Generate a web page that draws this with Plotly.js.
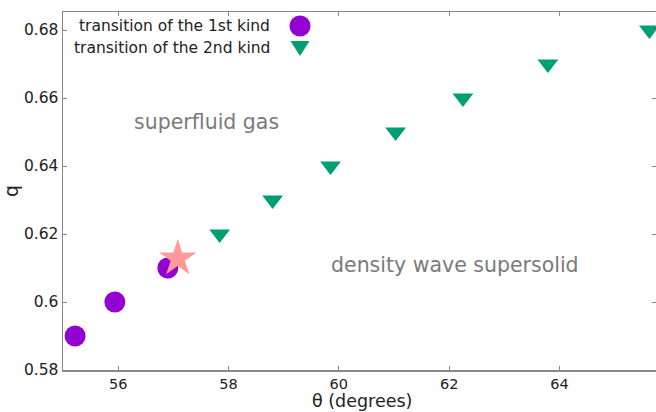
<!DOCTYPE html>
<html><head><meta charset="utf-8">
<script src="https://cdn.plot.ly/plotly-3.0.1.min.js"></script>
<style>html,body{margin:0;padding:0;background:#fff}</style>
</head><body>
<div id="chart" style="width:656px;height:412px"></div>
<script>
// data
const firstKindTheta = [55.22, 55.94, 56.90];
const firstKindQ = [0.59, 0.60, 0.61];
const secondKindTheta = [57.84, 58.80, 59.85, 61.03, 62.25, 63.79, 65.63];
const secondKindQ = [0.62, 0.63, 0.64, 0.65, 0.66, 0.67, 0.68];
const starTheta = [57.08];
const starQ = [0.6128];
const legendLabels = ["transition of the 1st kind", "transition of the 2nd kind"];
const regionLabels = ["superfluid gas", "density wave supersolid"];
const xTicks = [56, 58, 60, 62, 64];
const yTicks = [0.58, 0.6, 0.62, 0.64, 0.66, 0.68];

const FONT = "DejaVu Sans, Verdana, sans-serif";
const px = v => (v - 63) / 593;   // pixel x -> paper
const py = v => (370 - v) / 358;  // pixel y -> paper

const traces = [
  {x: firstKindTheta, y: firstKindQ, mode: "markers", type: "scatter", name: legendLabels[0],
   marker: {symbol: "circle", size: 21, color: "#9400D3"}, cliponaxis: false},
  {x: secondKindTheta, y: secondKindQ, mode: "markers", type: "scatter", name: legendLabels[1],
   marker: {symbol: "triangle-down", size: 18, color: "#009E73"}, cliponaxis: false},
  {x: starTheta, y: starQ, mode: "markers", type: "scatter", name: "star",
   marker: {symbol: "star", size: 28, color: "#FF9A9A"}, cliponaxis: false}
];

const layout = {
  width: 656, height: 412,
  margin: {l: 63, r: 0, t: 12, b: 42},
  showlegend: false,
  paper_bgcolor: "#fff", plot_bgcolor: "#fff",
  font: {family: FONT, size: 15, color: "#222"},
  xaxis: {
    range: [55, 65.75], tickvals: xTicks, ticktext: xTicks.map(String),
    showgrid: false, zeroline: false, showline: true, linecolor: "#888", linewidth: 1.5,
    mirror: "ticks", ticks: "inside", ticklen: 4, tickcolor: "#888", ticklabelstandoff: 0,
    tickfont: {size: 14.5, family: FONT, color: "#222"},
    title: {text: "", font: {size: 18, family: FONT, color: "#222"}}
  },
  yaxis: {
    range: [0.58, 0.6853], tickvals: yTicks, ticktext: yTicks.map(v => String(v)),
    showgrid: false, zeroline: false, showline: true, linecolor: "#888", linewidth: 1.5,
    mirror: "ticks", ticks: "inside", ticklen: 4, tickcolor: "#888",
    tickfont: {size: 15.5, family: FONT, color: "#222"},
    title: {text: "q", font: {size: 19, family: FONT, color: "#222"}, standoff: 8}
  },
  annotations: [
    {xref: "paper", yref: "paper", x: px(362), y: py(401.5), xanchor: "center", yanchor: "middle",
     text: "θ (degrees)", showarrow: false, font: {size: 17.5, family: FONT, color: "#222"}},
    {xref: "paper", yref: "paper", x: px(206), y: py(122), xanchor: "center", yanchor: "middle",
     text: regionLabels[0], showarrow: false, font: {size: 20.5, family: FONT, color: "#7a7a7a"}},
    {xref: "paper", yref: "paper", x: px(455), y: py(265), xanchor: "center", yanchor: "middle",
     text: regionLabels[1], showarrow: false, font: {size: 20.5, family: FONT, color: "#7a7a7a"}},
    {xref: "paper", yref: "paper", x: px(272), y: py(26), xanchor: "right", yanchor: "middle",
     text: legendLabels[0], showarrow: false, font: {size: 15.5, family: FONT, color: "#222"}},
    {xref: "paper", yref: "paper", x: px(272), y: py(48), xanchor: "right", yanchor: "middle",
     text: legendLabels[1], showarrow: false, font: {size: 15.5, family: FONT, color: "#222"}}
  ],
  shapes: [
    {type: "circle", xref: "paper", yref: "paper", x0: px(289.5), x1: px(310.5),
     y0: py(36.5), y1: py(15.5), fillcolor: "#9400D3", line: {width: 0}},
    {type: "path", xref: "paper", yref: "paper",
     path: "M" + px(290.5) + "," + py(41) + " L" + px(309.5) + "," + py(41) +
           " L" + px(300) + "," + py(56) + " Z",
     fillcolor: "#009E73", line: {width: 0}}
  ]
};
Plotly.newPlot("chart", traces, layout, {displayModeBar: false, staticPlot: true});
</script>
</body></html>
